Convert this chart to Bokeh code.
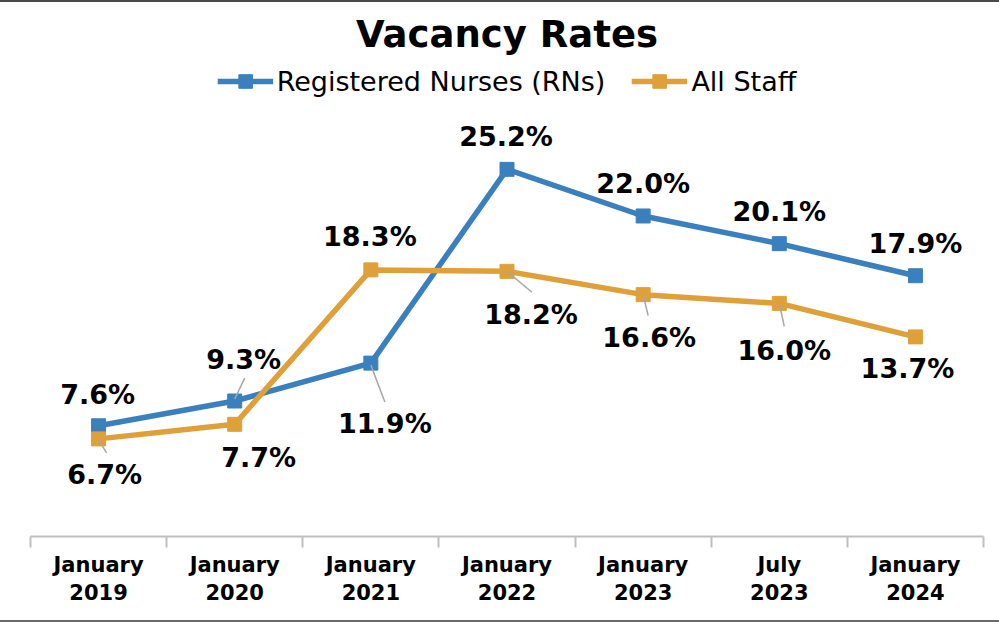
from bokeh.plotting import figure
from bokeh.models import (Range1d, FixedTicker, Legend, LegendItem, ColumnDataSource, Div)
from bokeh.layouts import column
from bokeh.embed import file_html
from bokeh.resources import INLINE

# ---- data ----
categories = ["January\n2019", "January\n2020", "January\n2021", "January\n2022",
              "January\n2023", "July\n2023", "January\n2024"]
rn_rates = [7.6, 9.3, 11.9, 25.2, 22.0, 20.1, 17.9]
staff_rates = [6.7, 7.7, 18.3, 18.2, 16.6, 16.0, 13.7]
series_names = ["Registered Nurses (RNs)", "All Staff"]

# ---- label placement (pixel offsets from the point; y down) ----
rn_label_dx = [-1, 9, 14, -1, 0, 0, 0]
rn_label_dy = [-31, -42, 60, -33, -32, -32, -32]
staff_label_dx = [6, 24, -1, 24, 6, 5, -8]
staff_label_dy = [36, 33, -33, 43, 43, 47, 32]
# leader lines: (index, start dx, start dy, end dx, end dy) in px
rn_leaders = [(1, 0, -2, 10, -23), (2, 0, 2, 14, 39)]
staff_leaders = [(0, 0, 1, 8, 14), (3, 0, 0, 25, 21), (4, 0, 0, 5, 21), (5, 0, 0, 5, 23)]

BLUE = "#3A80BE"
GOLD = "#DFA03A"
FONT = "DejaVu Sans"

W, H = 999, 618
LEFT, RIGHT, TOP, BOTTOM = 30, 16, 60, 84
PX_PER_PCT = 14.6
n = len(categories)
xs = [i + 0.5 for i in range(n)]
frame_w = W - LEFT - RIGHT
frame_h = H - TOP - BOTTOM
ytop = frame_h / PX_PER_PCT
px_x = n / frame_w
px_y = 1.0 / PX_PER_PCT

p = figure(width=W, height=H, x_range=Range1d(0, n), y_range=Range1d(0, ytop),
           y_axis_location=None, toolbar_location=None, output_backend="svg",
           min_border_left=LEFT, min_border_right=RIGHT, min_border_top=TOP,
           min_border_bottom=BOTTOM, title="Vacancy Rates", margin=0)
p.outline_line_color = None
p.grid.visible = False
p.background_fill_color = "white"
p.border_fill_color = "white"

p.title.text_font = FONT
p.title.text_font_size = "37px"
p.title.text_font_style = "bold"
p.title.text_color = "black"
p.title.align = "center"
p.title.standoff = 16

ax = p.xaxis[0]
ax.ticker = FixedTicker(ticks=xs, minor_ticks=list(range(n + 1)))
ax.major_label_overrides = {x: c for x, c in zip(xs, categories)}
ax.major_tick_line_color = None
ax.minor_tick_line_color = "#bfbfbf"
ax.minor_tick_line_width = 2
ax.minor_tick_in = 0
ax.minor_tick_out = 11
ax.axis_line_color = "#bfbfbf"
ax.axis_line_width = 2
ax.major_label_text_font = FONT
ax.major_label_text_font_size = "21px"
ax.major_label_text_font_style = "bold"
ax.major_label_text_color = "black"
ax.major_label_standoff = 5
ax.major_label_text_line_height = 1.2

renderers = []
for vals, color in ((rn_rates, BLUE), (staff_rates, GOLD)):
    src = ColumnDataSource(dict(x=xs, y=vals))
    ln = p.line("x", "y", source=src, line_color=color, line_width=5.5)
    sc = p.scatter("x", "y", source=src, marker="square", size=14,
                   fill_color=color, line_color=color)
    renderers.append([ln, sc])

for vals, leaders in ((rn_rates, rn_leaders), (staff_rates, staff_leaders)):
    x0 = [xs[i] + a * px_x for i, a, b, c, d in leaders]
    y0 = [vals[i] - b * px_y for i, a, b, c, d in leaders]
    x1 = [xs[i] + c * px_x for i, a, b, c, d in leaders]
    y1 = [vals[i] - d * px_y for i, a, b, c, d in leaders]
    p.segment(x0=x0, y0=y0, x1=x1, y1=y1, line_color="#a6a6a6", line_width=1.5)

for vals, dx, dy in ((rn_rates, rn_label_dx, rn_label_dy),
                     (staff_rates, staff_label_dx, staff_label_dy)):
    src = ColumnDataSource(dict(x=xs, y=vals, t=[f"{v:.1f}%" for v in vals],
                                dx=dx, dy=dy))
    p.text("x", "y", text="t", source=src, x_offset="dx", y_offset="dy",
           text_align="center", text_baseline="middle", text_font_size="27px",
           text_font_style="bold", text_color="black", text_font={"value": FONT})

legend = Legend(items=[LegendItem(label=series_names[0], renderers=renderers[0]),
                       LegendItem(label=series_names[1], renderers=renderers[1])],
                orientation="horizontal", location="top_center")
legend.label_text_font = FONT
legend.label_text_font_size = "27px"
legend.label_text_color = "black"
legend.glyph_width = 56
legend.glyph_height = 34
legend.label_standoff = 4
legend.spacing = 26
legend.padding = 0
legend.margin = 1
legend.border_line_color = None
legend.background_fill_alpha = 0
p.add_layout(legend, "center")

top_rule = Div(width=W, height=2, margin=0, styles={"background-color": "#4a4a4a"})
bottom_rule = Div(width=W, height=2, margin=0, styles={"background-color": "#6a6a6a"})
layout = column(top_rule, p, bottom_rule, spacing=0, margin=0)

open("out.html", "w").write(file_html(layout, INLINE))
